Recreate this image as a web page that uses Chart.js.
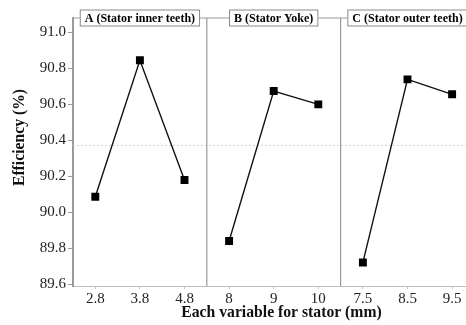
<!DOCTYPE html>
<html><head><meta charset="utf-8">
<script src="https://cdn.jsdelivr.net/npm/chart.js@4"></script>
<style>html,body{margin:0;padding:0;overflow:hidden;background:#fff}#wrap{width:480px;height:325px;position:relative}</style>
</head><body><div id="wrap"><canvas id="c"></canvas></div>
<script>
const panelTitles = ['A (Stator inner teeth)', 'B (Stator Yoke)', 'C (Stator outer teeth)'];
const xTitle = 'Each variable for stator (mm)';
const yTitle = 'Efficiency (%)';
const catA = ['2.8', '3.8', '4.8'];
const catB = ['8', '9', '10'];
const catC = ['7.5', '8.5', '9.5'];
const valA = [90.085, 90.843, 90.178];
const valB = [89.839, 90.672, 90.598];
const valC = [89.720, 90.737, 90.654];
const yTicks = [89.6, 89.8, 90.0, 90.2, 90.4, 90.6, 90.8, 91.0];
const meanValue = 90.37;

const FONT = "'Liberation Serif','Times New Roman',serif";
const groups = [catA, catB, catC];
const values = [valA, valB, valC];
const labels = [].concat(catA, catB, catC);
let offset = 0;
const datasets = values.map((vals, gi) => {
  const data = labels.map(() => null);
  vals.forEach((v, i) => { data[offset + i] = v; });
  offset += groups[gi].length;
  return {
    data, borderColor: '#111', borderWidth: 1.4, backgroundColor: '#000',
    pointStyle: 'rect', pointRadius: 5.6, pointBorderWidth: 0, pointBackgroundColor: '#000',
    spanGaps: false, tension: 0
  };
});

const panelPlugin = {
  id: 'panels',
  beforeDatasetsDraw(chart) {
    const {ctx, chartArea: a, scales: {x, y}} = chart;
    ctx.save();
    const ym = y.getPixelForValue(meanValue);
    ctx.strokeStyle = '#d4d4d4'; ctx.lineWidth = 1; ctx.setLineDash([2, 2]);
    ctx.beginPath(); ctx.moveTo(a.left, ym); ctx.lineTo(a.right, ym); ctx.stroke();
    ctx.setLineDash([]);
    ctx.strokeStyle = '#9a9a9a'; ctx.lineWidth = 1.2;
    ctx.beginPath(); ctx.moveTo(a.left, a.top); ctx.lineTo(a.right, a.top); ctx.stroke();
    let idx = 0;
    groups.forEach((g, gi) => {
      idx += g.length;
      if (gi < groups.length - 1) {
        const px = x.getPixelForValue(idx - 0.5);
        ctx.beginPath(); ctx.moveTo(px, a.top); ctx.lineTo(px, a.bottom); ctx.stroke();
      }
    });
    ctx.restore();
  },
  afterDraw(chart) {
    const {ctx, chartArea: a, scales: {x}} = chart;
    ctx.save();
    ctx.font = "bold 12px " + FONT;
    ctx.textAlign = 'center'; ctx.textBaseline = 'middle';
    let idx = 0;
    groups.forEach((g, gi) => {
      const l = x.getPixelForValue(idx - 0.5);
      const r = x.getPixelForValue(idx + g.length - 0.5);
      idx += g.length;
      const cx = (l + r) / 2;
      const w = ctx.measureText(panelTitles[gi]).width + 10;
      const h = 17;
      ctx.fillStyle = '#fff';
      ctx.fillRect(cx - w / 2, a.top - h / 2, w, h);
      ctx.strokeStyle = '#8a8a8a'; ctx.lineWidth = 1;
      ctx.strokeRect(cx - w / 2 + 0.5, a.top - h / 2 + 0.5, w - 1, h - 1);
      ctx.fillStyle = '#000';
      ctx.fillText(panelTitles[gi], cx, a.top + 0.5);
    });
    // axis titles
    ctx.fillStyle = '#111';
    ctx.font = "bold 15.7px " + FONT;
    ctx.fillText(xTitle, 281.5, 313);
    ctx.translate(20, 137.5);
    ctx.rotate(-Math.PI / 2);
    ctx.fillText(yTitle, 0, 0);
    ctx.restore();
  }
};

new Chart(document.getElementById('c'), {
  type: 'line',
  data: { labels, datasets },
  options: {
    responsive: true, maintainAspectRatio: false, animation: false,
    layout: { padding: { top: 18, right: 5, left: 0, bottom: 0 } },
    plugins: { legend: { display: false }, tooltip: { enabled: false } },
    scales: {
      x: {
        type: 'category', offset: true,
        grid: { drawOnChartArea: false, tickLength: 3, color: '#c4c4c4' },
        border: { color: '#bdbdbd', width: 1 },
        ticks: { color: '#222', font: { family: FONT, size: 15 }, padding: 1, maxRotation: 0, autoSkip: false },
        afterFit(s) { s.height = 39; }
      },
      y: {
        min: 89.589, max: 91.078,
        afterBuildTicks(s) { s.ticks = yTicks.map(v => ({ value: v })); },
        grid: { drawOnChartArea: false, tickLength: 5, color: '#999' },
        border: { color: '#9a9a9a', width: 2 },
        ticks: { color: '#222', font: { family: FONT, size: 15 }, padding: 2,
          callback: v => Number(v).toFixed(1) },
        afterFit(s) { s.width = 73; }
      }
    }
  },
  plugins: [panelPlugin]
});
</script>
</body></html>
